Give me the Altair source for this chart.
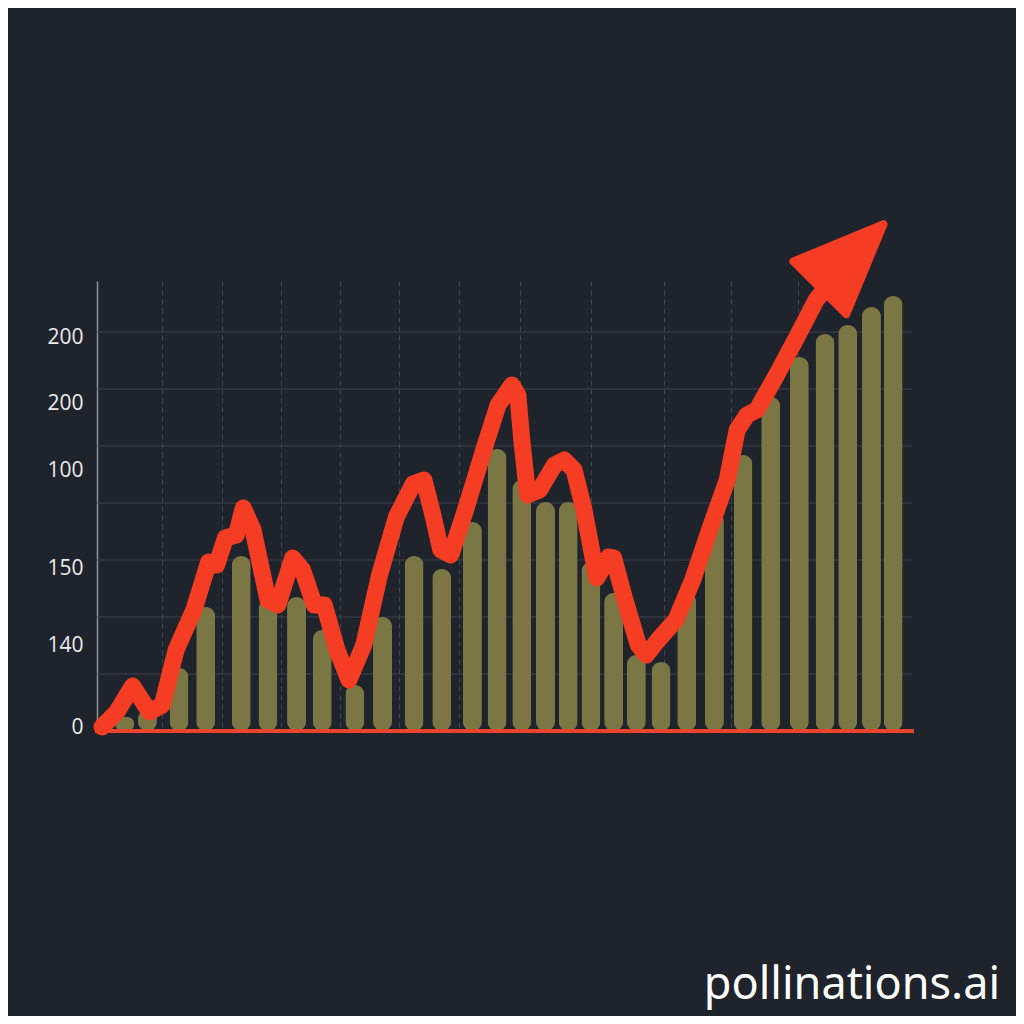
import altair as alt
import pandas as pd

# ---- data (x: position along the time axis, y: value) ----
bar_x = [23, 46, 78, 105, 141, 168, 197, 223, 256, 284, 316, 344, 375, 400, 425,
         449, 472, 495, 518, 541, 566, 592, 620, 649, 677, 706, 732, 755, 779, 801]
bar_h = [14, 21, 63, 124, 175, 131, 134, 101, 46, 114, 175, 162, 209, 282, 251,
         229, 229, 169, 138, 76, 69, 138, 219, 276, 334, 374, 397, 406, 424, 435]

line_x = [0, 15, 31, 48, 61, 75, 93, 108, 116, 125, 136, 143, 153, 168, 178, 193,
          203, 215, 225, 238, 250, 265, 281, 298, 315, 326, 335, 343, 353, 368,
          388, 401, 415, 421, 425, 431, 443, 458, 468, 478, 488, 501, 513, 518,
          528, 543, 551, 563, 581, 598, 615, 633, 643, 653, 663, 683, 703, 723, 738]
line_y = [4, 19, 45, 19, 26, 81, 121, 169, 166, 193, 196, 223, 201, 131, 126, 173,
          161, 126, 126, 81, 51, 86, 156, 214, 247, 251, 216, 181, 176, 221,
          286, 326, 346, 336, 291, 236, 241, 266, 271, 261, 221, 153, 174, 173,
          136, 86, 76, 91, 111, 151, 201, 251, 301, 316, 321, 356, 393, 431, 449]

arrow_x = [759]
arrow_y = [475]

tick_vals = [4, 86, 163, 261, 328, 394]
tick_labels = ["0", "140", "150", "100", "200", "200"]

hgrid_vals = [57, 114, 171, 228, 285, 342, 399]
vgrid_vals = [61, 121, 181, 241, 301, 361, 423, 495, 569, 637, 705]

BG = "#1f232c"
RED = "#f43d22"
OLIVE = "#7b7744"

bars_df = pd.DataFrame({"x": bar_x, "h": bar_h})
line_df = pd.DataFrame({"x": line_x, "y": line_y, "o": list(range(len(line_x)))})
arrow_df = pd.DataFrame({"x": arrow_x, "y": arrow_y})
hgrid_df = pd.DataFrame({"y": hgrid_vals})

label_expr = "''"
for v, t in zip(tick_vals, tick_labels):
    label_expr = f"datum.value == {v} ? '{t}' : ({label_expr})"

xscale = alt.Scale(domain=[0, 815], nice=False, zero=False)
yscale = alt.Scale(domain=[0, 450], nice=False)

yaxis = alt.Axis(values=tick_vals, labelExpr=label_expr, grid=False,
                 ticks=False, domain=True, domainColor="#8d929c",
                 domainWidth=1.5, title=None, labelColor="#ececec",
                 labelFontSize=21, labelFont="Open Sans",
                 labelPadding=14, labelBaseline="middle")
xaxis = alt.Axis(values=vgrid_vals, labels=False, ticks=False, domain=False,
                 title=None, grid=True, gridColor="#42474f",
                 gridDash=[5, 4], gridWidth=1)

hgrid = alt.Chart(hgrid_df).mark_rule(color="#3e434c", strokeWidth=1).encode(
    y=alt.Y("y:Q", scale=yscale, axis=yaxis),
    x=alt.value(0), x2=alt.value(815),
)

bars = alt.Chart(bars_df).mark_bar(size=19, cornerRadius=9.5, color=OLIVE).encode(
    x=alt.X("x:Q", scale=xscale, axis=xaxis),
    y=alt.Y("h:Q", scale=yscale, axis=yaxis),
)

baseline = alt.Chart(hgrid_df.head(1)).mark_rule(color="#e8452c", strokeWidth=4).encode(
    y=alt.datum(0, scale=yscale), x=alt.value(-2), x2=alt.value(817),
)

line = alt.Chart(line_df).mark_line(color=RED, strokeWidth=17, strokeCap="round",
                                    strokeJoin="round").encode(
    x=alt.X("x:Q", scale=xscale), y=alt.Y("y:Q", scale=yscale), order="o:Q",
)

arrow = alt.Chart(arrow_df).mark_point(
    shape="M0,-1 L0.83,1 L-0.83,1 Z", filled=True, size=8100, angle=45,
    color=RED, opacity=1, strokeJoin="round", strokeWidth=8, stroke=RED,
).encode(x=alt.X("x:Q", scale=xscale), y=alt.Y("y:Q", scale=yscale))

watermark = alt.Chart(hgrid_df.head(1)).mark_text(
    text="pollinations.ai", font="Noto Sans", fontSize=45, color="#ffffff",
    align="right", baseline="alphabetic",
).encode(x=alt.value(903), y=alt.value(718))

chart = alt.layer(hgrid, bars, baseline, line, arrow, watermark).properties(
    width=815, height=450,
    padding={"left": 89, "top": 273, "right": 104, "bottom": 285},
    autosize=alt.AutoSizeParams(type="none"),
    background=BG,
).configure_view(stroke=None)

chart.save("out.html", embed_options={"renderer": "svg", "actions": False})
